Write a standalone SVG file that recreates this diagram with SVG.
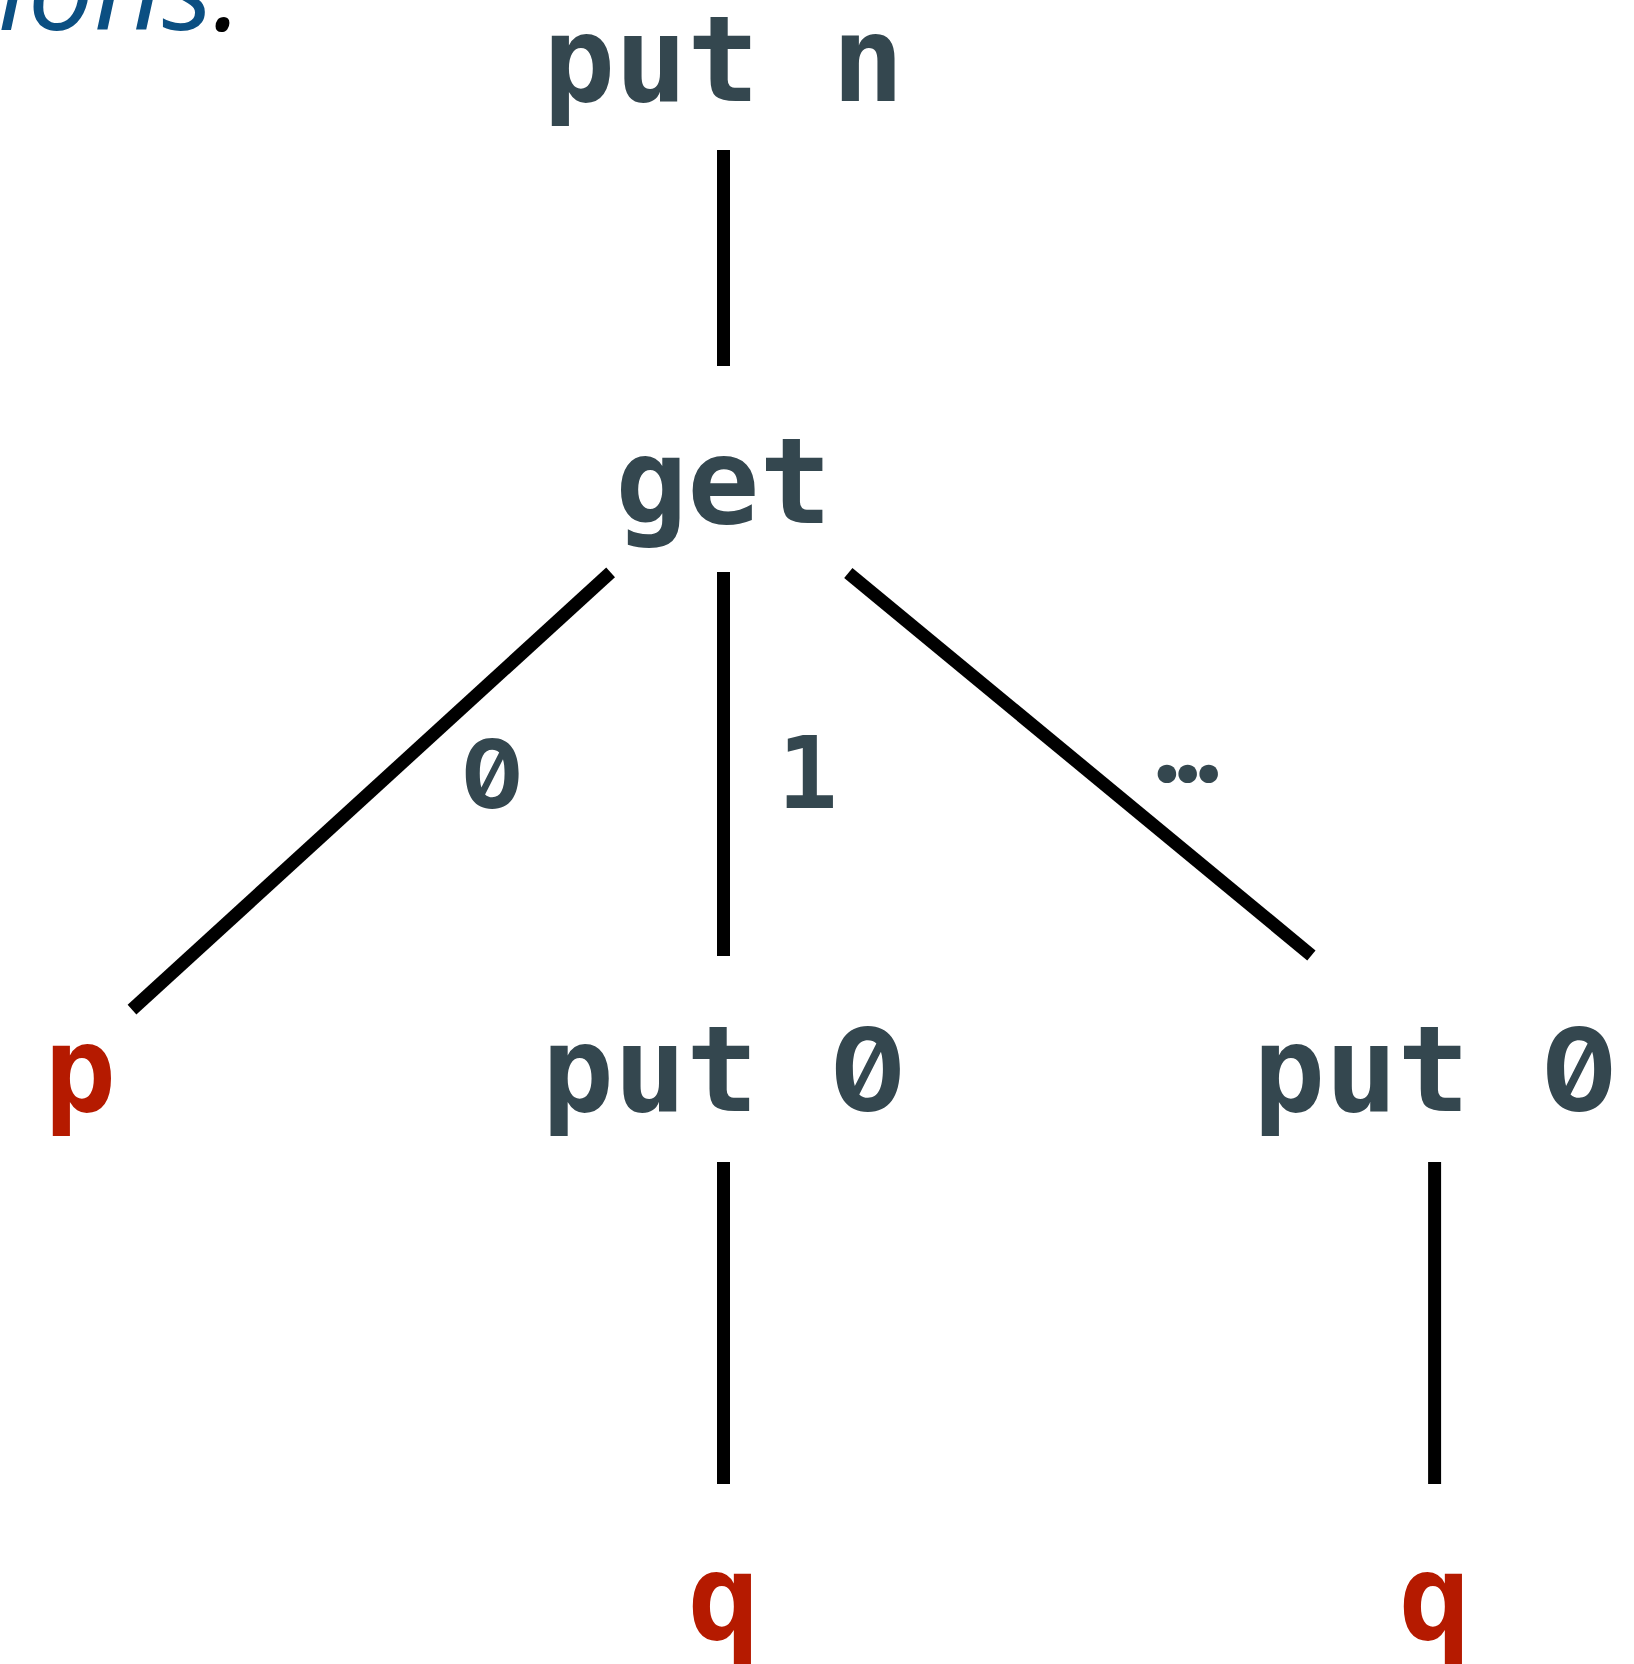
<svg xmlns="http://www.w3.org/2000/svg" width="1634" height="1664" viewBox="0 0 1634 1664">
  <style>
    .code { font-family: "DejaVu Sans Mono", "Liberation Mono", monospace; font-weight: bold; font-size: 120px; fill: #34474f; text-anchor: middle; }
    .label { font-family: "DejaVu Sans Mono", "Liberation Mono", monospace; font-weight: bold; font-size: 100px; fill: #34474f; text-anchor: middle; }
    .zero { font-family: Inter, "DejaVu Sans Mono", monospace; font-feature-settings: "zero" 1, "tnum" 1; }
    .code .zero { font-size: 115px; }
    .label.zero { font-size: 95px; }
    .dots { font-family: Inter, "DejaVu Sans", sans-serif; font-weight: 900; font-size: 92px; letter-spacing: -13.5px; }
    .var { fill: #b51a00; }
    .edge { stroke: #000; stroke-width: 13; fill: none; stroke-linecap: butt; }
    .prose { font-family: "Open Sans", "Noto Sans", sans-serif; font-style: italic; font-size: 118px; fill: #0b4f82; }
  </style>
  <rect width="1634" height="1664" fill="#fff"/>

  <!-- tail of the sentence above the tree -->
  <text class="prose" x="-2" y="30">ions<tspan fill="#000">.</tspan></text>

  <!-- connectors -->
  <g id="edges">
    <line class="edge" x1="723.5" y1="150" x2="723.5" y2="366"/>
    <line class="edge" x1="610.6" y1="572.4" x2="132" y2="1009.6"/>
    <line class="edge" x1="723.5" y1="572" x2="723.5" y2="956"/>
    <line class="edge" x1="848.3" y1="573" x2="1311.4" y2="955.4"/>
    <line class="edge" x1="723.5" y1="1162" x2="723.5" y2="1484"/>
    <line class="edge" x1="1434.6" y1="1162" x2="1434.6" y2="1484"/>
  </g>

  <!-- edge labels -->
  <g id="edge-labels">
    <text class="label zero" x="492.3" y="807.5">0</text>
    <text class="label" x="807.5" y="808">1</text>
    <text class="label dots" x="1181" y="782">...</text>
  </g>

  <!-- nodes -->
  <g id="node-put-n"><text class="code" x="723.5" y="101">put n</text></g>
  <g id="node-get"><text class="code" x="723.5" y="523">get</text></g>
  <g id="node-p"><text class="code var" x="80" y="1111">p</text></g>
  <g id="node-put-0-a"><text class="code" x="723.5" y="1111">put <tspan class="zero">0</tspan></text></g>
  <g id="node-put-0-b"><text class="code" x="1434.6" y="1111">put <tspan class="zero">0</tspan></text></g>
  <g id="node-q-a"><text class="code var" x="723.5" y="1639">q</text></g>
  <g id="node-q-b"><text class="code var" x="1434.6" y="1639">q</text></g>
</svg>
